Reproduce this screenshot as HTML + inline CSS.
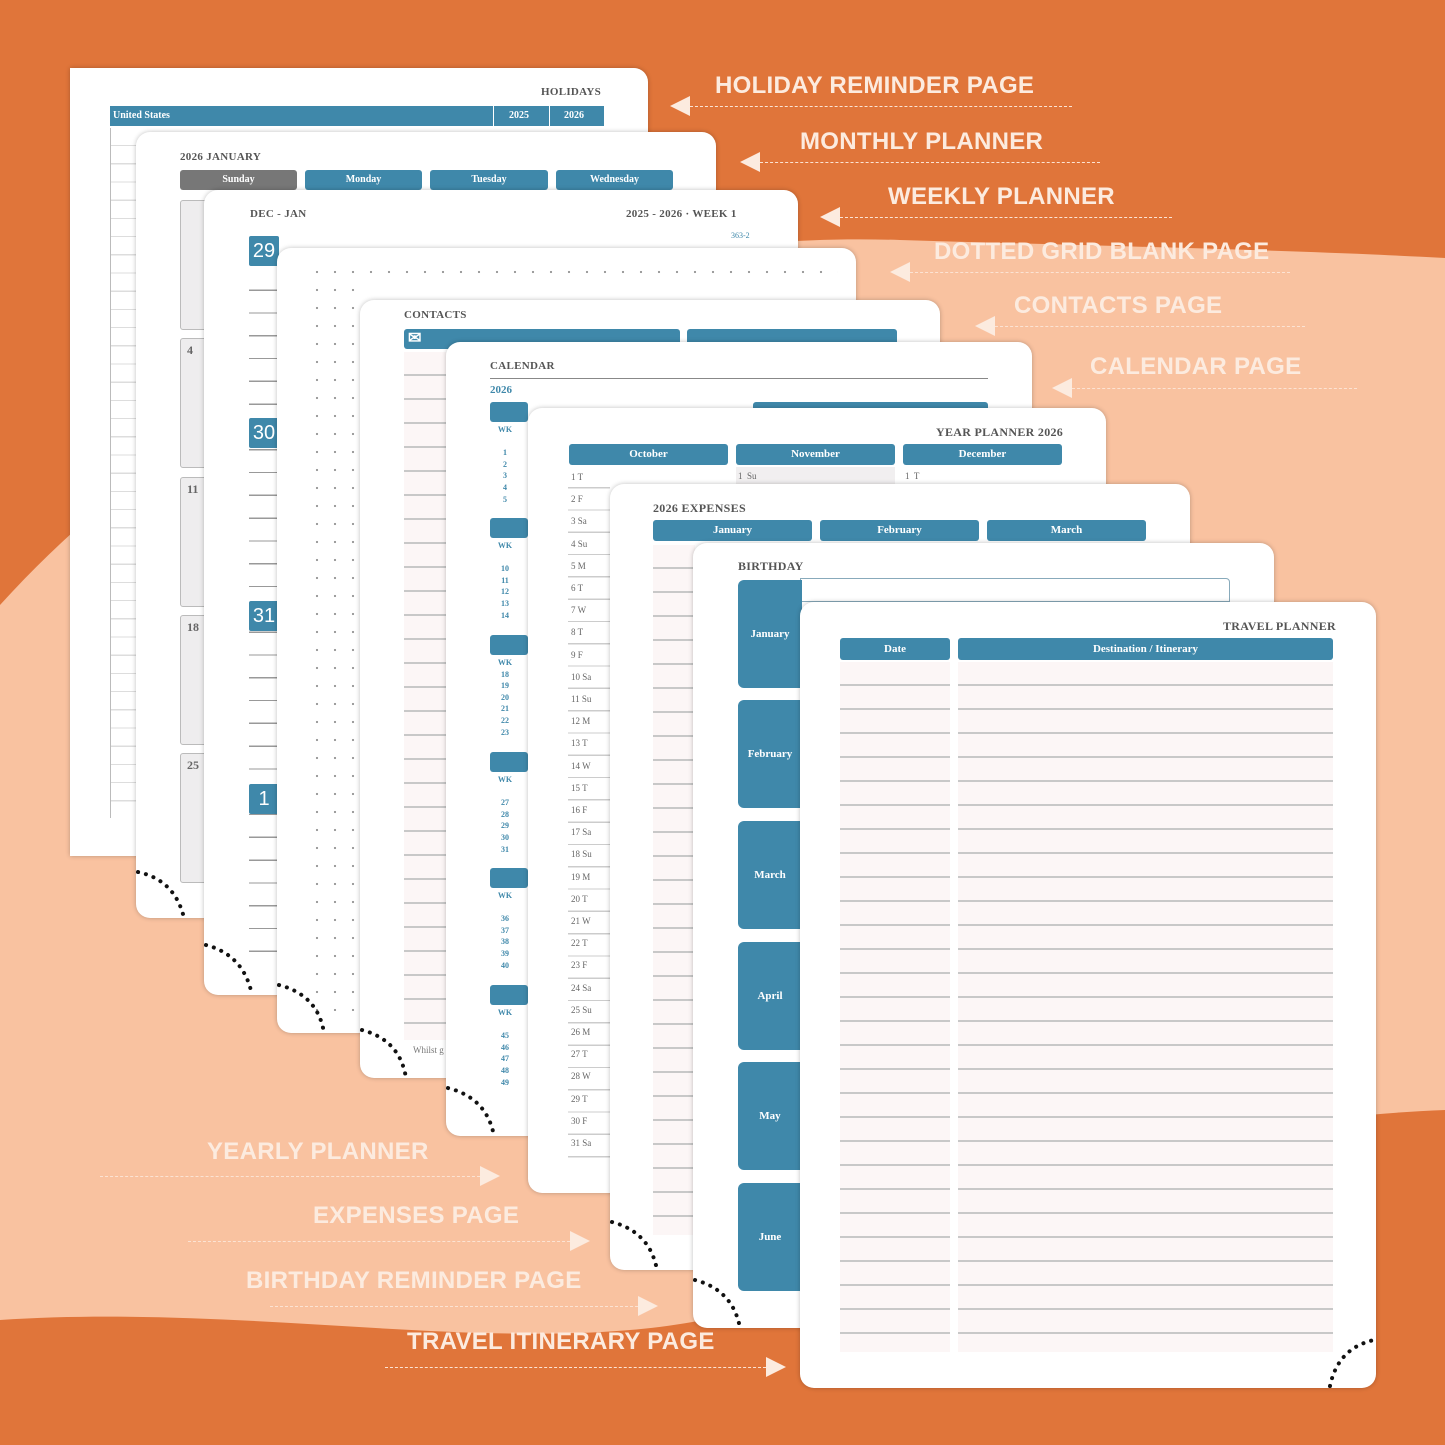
<!DOCTYPE html>
<html><head><meta charset="utf-8">
<style>
*{margin:0;padding:0;box-sizing:border-box}
body{width:1445px;height:1445px;position:relative;overflow:hidden;background:#E0753A;font-family:"Liberation Serif",serif}
.a{position:absolute}
.pg{position:absolute;background:#fff;border-radius:14px;box-shadow:0 0 5px rgba(0,0,0,.25)}
.t{position:absolute;background:#3F88AA;color:#fff;font-weight:bold;font-size:11px;text-align:center;border-radius:3px;line-height:20px}
.h{position:absolute;font-weight:bold;font-size:12px;color:#555;letter-spacing:.3px}
.lab{position:absolute;font-family:"Liberation Sans",sans-serif;font-weight:bold;font-size:24px;color:#FCEBDF;letter-spacing:.3px;white-space:nowrap}
.dl{position:absolute;height:0;border-top:1.5px dashed #FCE3D3}
.rows{position:absolute;background:repeating-linear-gradient(to bottom,#FCF6F6 0,#FCF6F6 22px,#C8C8C8 22px,#C8C8C8 24px)}
.dots{position:absolute;background-image:radial-gradient(circle,#999 1px,transparent 1.3px);background-size:18px 18px}
.num{position:absolute;background:#3F88AA;color:#fff;font-family:"Liberation Sans",sans-serif;font-size:20px;text-align:center;line-height:30px;width:30px;height:30px;border-radius:2px}
.gb{position:absolute;background:#EEEDEE;border:1px solid #bbb;border-radius:3px;font-size:12px;font-weight:bold;color:#666;padding:4px 6px}
.sm{position:absolute;font-size:9px;color:#666;line-height:22.2px}
</style></head><body>
<svg class="a" style="left:0;top:0" width="1445" height="1445">
<path d="M0 605 C 250 330, 600 230, 900 240 C 1100 246, 1300 250, 1445 258 L1445 1110 C 1200 1120, 1000 1180, 800 1290 C 600 1380, 300 1300, 0 1320 Z" fill="#F9C2A0"/>
</svg>

<!-- Page 1 holidays -->
<div class="pg" style="left:70px;top:68px;width:578px;height:788px;border-radius:0 14px 0 0"></div>
<div class="h" style="left:541px;top:86px;font-size:11px">HOLIDAYS</div>
<div class="a" style="left:110px;top:106px;width:494px;height:20px;background:#3F88AA;color:#fff;font-size:10px;font-weight:bold;line-height:20px;padding-left:3px">United States</div>
<div class="a" style="left:493px;top:106px;width:1px;height:20px;background:#fff"></div>
<div class="a" style="left:549px;top:106px;width:1px;height:20px;background:#fff"></div>
<div class="a" style="left:509px;top:106px;color:#fff;font-size:10px;font-weight:bold;line-height:20px">2025</div>
<div class="a" style="left:564px;top:106px;color:#fff;font-size:10px;font-weight:bold;line-height:20px">2026</div>
<div class="a" style="left:110px;top:128px;width:27px;height:690px;border-left:1px solid #bbb;background:repeating-linear-gradient(to bottom,#fff 0,#fff 17px,#ddd 17px,#ddd 18.2px)"></div>

<!-- Page 2 monthly -->
<div class="pg" style="left:136px;top:132px;width:580px;height:786px"></div>
<div class="h" style="left:180px;top:151px;font-size:11px">2026 JANUARY</div>
<div class="t" style="left:180px;top:170px;width:117px;background:#777;font-size:10px">Sunday</div>
<div class="t" style="left:305px;top:170px;width:117px;font-size:10px">Monday</div>
<div class="t" style="left:430px;top:170px;width:118px;font-size:10px">Tuesday</div>
<div class="t" style="left:556px;top:170px;width:117px;font-size:10px">Wednesday</div>
<div class="gb" style="left:180px;top:200px;width:30px;height:130px"></div>
<div class="gb" style="left:180px;top:338px;width:30px;height:130px">4</div>
<div class="gb" style="left:180px;top:477px;width:30px;height:130px">11</div>
<div class="gb" style="left:180px;top:615px;width:30px;height:130px">18</div>
<div class="gb" style="left:180px;top:753px;width:30px;height:130px">25</div>

<!-- Page 3 weekly -->
<div class="pg" style="left:204px;top:190px;width:594px;height:805px"></div>
<div class="h" style="left:250px;top:208px;font-size:11px">DEC - JAN</div>
<div class="h" style="left:626px;top:208px;font-size:11px">2025 - 2026 · WEEK 1</div>
<div class="a" style="left:731px;top:231px;font-size:8px;color:#3F88AA">363-2</div>
<div class="rows" style="left:249px;top:268px;width:28px;height:700px;background:repeating-linear-gradient(to bottom,#fff 0,#fff 21.5px,#999 21.5px,#999 22.8px)"></div>
<div class="num" style="left:249px;top:236px">29</div>
<div class="num" style="left:249px;top:418px">30</div>
<div class="num" style="left:249px;top:601px">31</div>
<div class="num" style="left:249px;top:784px">1</div>

<!-- Page 4 dotted -->
<div class="pg" style="left:277px;top:248px;width:579px;height:785px"></div>
<div class="dots" style="left:308px;top:263px;width:530px;height:18px"></div>
<div class="dots" style="left:308px;top:281px;width:54px;height:730px"></div>

<!-- Page 5 contacts -->
<div class="pg" style="left:360px;top:300px;width:580px;height:778px"></div>
<div class="h" style="left:404px;top:309px;font-size:11px">CONTACTS</div>
<div class="t" style="left:404px;top:329px;width:276px;height:20px;text-align:left;padding-left:4px;font-size:16px;line-height:20px">✉</div>
<div class="t" style="left:687px;top:329px;width:210px;height:20px"></div>
<div class="rows" style="left:404px;top:352px;width:42px;height:688px"></div>
<div class="a" style="left:413px;top:1045px;font-size:9px;color:#777">Whilst g</div>

<!-- Page 6 calendar -->
<div class="pg" style="left:446px;top:342px;width:586px;height:794px"></div>
<div class="h" style="left:490px;top:360px;font-size:11px">CALENDAR</div>
<div class="a" style="left:490px;top:378px;width:498px;height:1px;background:#888"></div>
<div class="a" style="left:490px;top:384px;font-size:11px;font-weight:bold;color:#3F88AA">2026</div>
<div class="t" style="left:490px;top:402px;width:38px;height:20px"></div>
<div class="t" style="left:753px;top:402px;width:235px;height:20px"></div>
<div class="t" style="left:490px;top:518px;width:38px;height:20px"></div>
<div class="t" style="left:490px;top:635px;width:38px;height:20px"></div>
<div class="t" style="left:490px;top:752px;width:38px;height:20px"></div>
<div class="t" style="left:490px;top:868px;width:38px;height:20px"></div>
<div class="t" style="left:490px;top:985px;width:38px;height:20px"></div>
<div class="a" style="left:497px;top:424px;font-size:8px;color:#3F88AA;font-weight:bold;line-height:11.6px;text-align:center;width:16px">WK<br><br>1<br>2<br>3<br>4<br>5</div>
<div class="a" style="left:497px;top:540px;font-size:8px;color:#3F88AA;font-weight:bold;line-height:11.6px;text-align:center;width:16px">WK<br><br>10<br>11<br>12<br>13<br>14</div>
<div class="a" style="left:497px;top:657px;font-size:8px;color:#3F88AA;font-weight:bold;line-height:11.6px;text-align:center;width:16px">WK<br>18<br>19<br>20<br>21<br>22<br>23</div>
<div class="a" style="left:497px;top:774px;font-size:8px;color:#3F88AA;font-weight:bold;line-height:11.6px;text-align:center;width:16px">WK<br><br>27<br>28<br>29<br>30<br>31</div>
<div class="a" style="left:497px;top:890px;font-size:8px;color:#3F88AA;font-weight:bold;line-height:11.6px;text-align:center;width:16px">WK<br><br>36<br>37<br>38<br>39<br>40</div>
<div class="a" style="left:497px;top:1007px;font-size:8px;color:#3F88AA;font-weight:bold;line-height:11.6px;text-align:center;width:16px">WK<br><br>45<br>46<br>47<br>48<br>49</div>

<!-- Page 7 year planner -->
<div class="pg" style="left:528px;top:408px;width:578px;height:785px"></div>
<div class="h" style="left:936px;top:425px;font-size:12px">YEAR PLANNER 2026</div>
<div class="t" style="left:569px;top:444px;width:159px;height:21px">October</div>
<div class="t" style="left:736px;top:444px;width:159px;height:21px">November</div>
<div class="t" style="left:903px;top:444px;width:159px;height:21px">December</div>
<div class="a" style="left:736px;top:467px;width:159px;height:17px;background:#F1EFF0"></div>
<div class="sm" style="left:738px;top:466px;line-height:20px">1&nbsp; Su</div>
<div class="sm" style="left:905px;top:466px;line-height:20px">1&nbsp; T</div>
<div class="a" style="left:568px;top:466px;width:42px;height:692px;background:repeating-linear-gradient(to bottom,#fff 0,#fff 21px,#ccc 21px,#ccc 22.3px)"></div>
<div class="sm" style="left:571px;top:466px">1 T<br>2 F<br>3 Sa<br>4 Su<br>5 M<br>6 T<br>7 W<br>8 T<br>9 F<br>10 Sa<br>11 Su<br>12 M<br>13 T<br>14 W<br>15 T<br>16 F<br>17 Sa<br>18 Su<br>19 M<br>20 T<br>21 W<br>22 T<br>23 F<br>24 Sa<br>25 Su<br>26 M<br>27 T<br>28 W<br>29 T<br>30 F<br>31 Sa</div>

<!-- Page 8 expenses -->
<div class="pg" style="left:610px;top:484px;width:580px;height:786px"></div>
<div class="h" style="left:653px;top:501px;font-size:12px">2026 EXPENSES</div>
<div class="t" style="left:653px;top:520px;width:159px;height:21px">January</div>
<div class="t" style="left:820px;top:520px;width:159px;height:21px">February</div>
<div class="t" style="left:987px;top:520px;width:159px;height:21px">March</div>
<div class="rows" style="left:653px;top:545px;width:42px;height:690px"></div>

<!-- Page 9 birthday -->
<div class="pg" style="left:693px;top:543px;width:581px;height:785px"></div>
<div class="h" style="left:738px;top:559px;font-size:12px">BIRTHDAY</div>
<div class="a" style="left:800px;top:578px;width:430px;height:24px;border:1px solid #8ab;border-radius:0 4px 0 0"></div>
<div class="t" style="left:738px;top:580px;width:64px;height:108px;line-height:108px;border-radius:6px 0 0 6px">January</div>
<div class="t" style="left:738px;top:700px;width:64px;height:108px;line-height:108px;border-radius:6px 0 0 6px">February</div>
<div class="t" style="left:738px;top:821px;width:64px;height:108px;line-height:108px;border-radius:6px 0 0 6px">March</div>
<div class="t" style="left:738px;top:942px;width:64px;height:108px;line-height:108px;border-radius:6px 0 0 6px">April</div>
<div class="t" style="left:738px;top:1062px;width:64px;height:108px;line-height:108px;border-radius:6px 0 0 6px">May</div>
<div class="t" style="left:738px;top:1183px;width:64px;height:108px;line-height:108px;border-radius:6px 0 0 6px">June</div>

<!-- Page 10 travel -->
<div class="pg" style="left:800px;top:602px;width:576px;height:786px"></div>
<div class="h" style="left:1223px;top:619px;font-size:12px">TRAVEL PLANNER</div>
<div class="t" style="left:840px;top:638px;width:110px;height:22px;line-height:22px">Date</div>
<div class="t" style="left:958px;top:638px;width:375px;height:22px;line-height:22px">Destination / Itinerary</div>
<div class="rows" style="left:840px;top:662px;width:110px;height:690px"></div>
<div class="rows" style="left:958px;top:662px;width:375px;height:690px"></div>

<!-- dotted corner arcs -->
<svg class="a" style="left:0;top:0" width="1445" height="1445" fill="none" stroke="#111" stroke-width="4" stroke-linecap="round" stroke-dasharray="0.1 8">
<path d="M138 872 Q175 880 184 918"/>
<path d="M206 945 Q244 955 252 995"/>
<path d="M279 985 Q318 995 324 1033"/>
<path d="M362 1030 Q400 1040 406 1078"/>
<path d="M448 1088 Q487 1098 494 1136"/>
<path d="M612 1222 Q650 1232 657 1270"/>
<path d="M695 1280 Q733 1290 740 1328"/>
<path d="M1330 1386 Q1338 1348 1374 1340"/>
</svg>

<!-- labels right -->
<div class="lab" style="left:715px;top:72px">HOLIDAY REMINDER PAGE</div>
<div class="dl" style="left:690px;top:106px;width:382px"></div>
<div class="lab" style="left:800px;top:128px">MONTHLY PLANNER</div>
<div class="dl" style="left:760px;top:162px;width:340px"></div>
<div class="lab" style="left:888px;top:183px">WEEKLY PLANNER</div>
<div class="dl" style="left:840px;top:217px;width:332px"></div>
<div class="lab" style="left:934px;top:238px">DOTTED GRID BLANK PAGE</div>
<div class="dl" style="left:910px;top:272px;width:380px"></div>
<div class="lab" style="left:1014px;top:292px">CONTACTS PAGE</div>
<div class="dl" style="left:995px;top:326px;width:310px"></div>
<div class="lab" style="left:1090px;top:353px">CALENDAR PAGE</div>
<div class="dl" style="left:1072px;top:388px;width:285px"></div>
<svg class="a" style="left:0;top:0" width="1445" height="1445" fill="#FCEBDF">
<polygon points="670,106 690,96 690,116"/>
<polygon points="740,162 760,152 760,172"/>
<polygon points="820,217 840,207 840,227"/>
<polygon points="890,272 910,262 910,282"/>
<polygon points="975,326 995,316 995,336"/>
<polygon points="1052,388 1072,378 1072,398"/>
<polygon points="500,1176 480,1166 480,1186"/>
<polygon points="590,1241 570,1231 570,1251"/>
<polygon points="658,1306 638,1296 638,1316"/>
<polygon points="786,1367 766,1357 766,1377"/>
</svg>
<div class="lab" style="left:207px;top:1138px">YEARLY PLANNER</div>
<div class="dl" style="left:100px;top:1176px;width:380px"></div>
<div class="lab" style="left:313px;top:1202px">EXPENSES PAGE</div>
<div class="dl" style="left:188px;top:1241px;width:382px"></div>
<div class="lab" style="left:246px;top:1267px">BIRTHDAY REMINDER PAGE</div>
<div class="dl" style="left:270px;top:1306px;width:368px"></div>
<div class="lab" style="left:407px;top:1328px">TRAVEL ITINERARY PAGE</div>
<div class="dl" style="left:385px;top:1367px;width:381px"></div>
</body></html>
